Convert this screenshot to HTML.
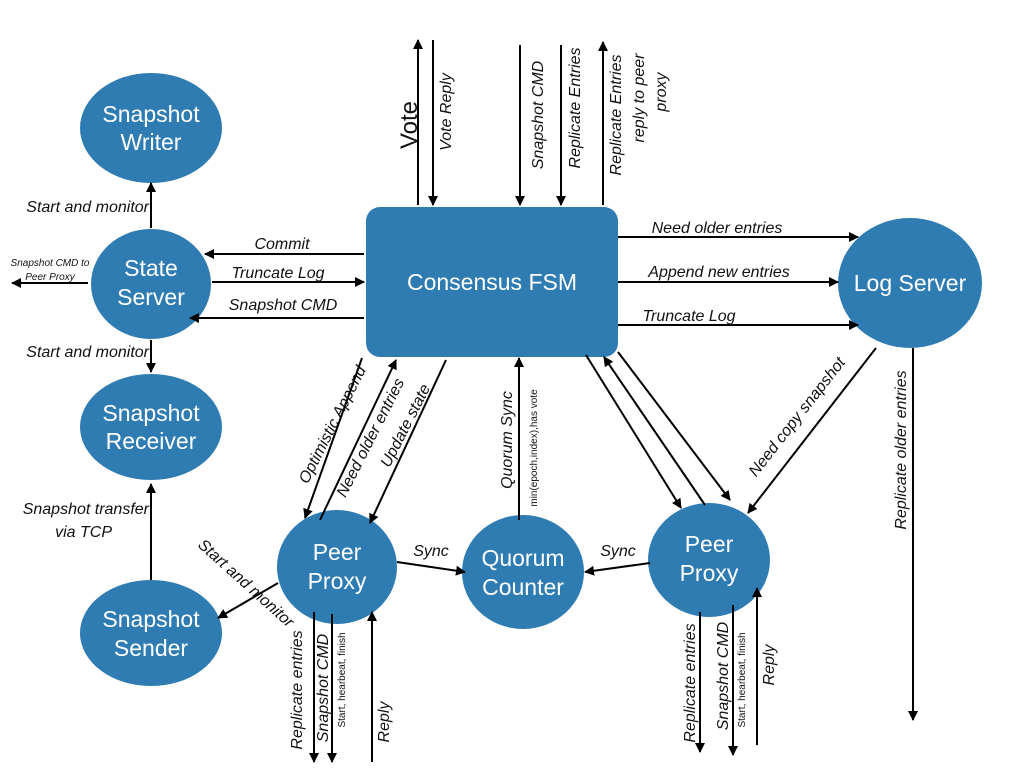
<!DOCTYPE html>
<html><head><meta charset="utf-8"><style>
html,body{margin:0;padding:0;background:#fff;}
svg{display:block;}
.n{fill:#2f7cb3;}
.t{fill:#fff;font-family:"Liberation Sans",sans-serif;font-size:23px;text-anchor:middle;}
.l{fill:#111;font-family:"Liberation Sans",sans-serif;font-size:16px;font-style:italic;}
.s{fill:#111;font-family:"Liberation Sans",sans-serif;font-size:10px;}
line{stroke:#000;stroke-width:2;}
</style></head><body>
<svg width="1024" height="768" viewBox="0 0 1024 768" xmlns="http://www.w3.org/2000/svg">
<defs><marker id="a" markerWidth="10" markerHeight="10" refX="9" refY="5" orient="auto" markerUnits="userSpaceOnUse"><path d="M0,0 L10,5 L0,10 z" fill="#000"/></marker></defs>
<g class="n">
<ellipse cx="151" cy="128" rx="71" ry="55"/>
<ellipse cx="151" cy="284" rx="60" ry="55"/>
<ellipse cx="151" cy="427" rx="71" ry="53"/>
<ellipse cx="151" cy="633" rx="71" ry="53"/>
<rect x="366" y="207" width="252" height="150" rx="14"/>
<ellipse cx="910" cy="283" rx="72" ry="65"/>
<ellipse cx="337" cy="567" rx="60" ry="57"/>
<ellipse cx="523" cy="572" rx="61" ry="57"/>
<ellipse cx="709" cy="560" rx="61" ry="57"/>
</g>
<text class="t" x="151" y="122">Snapshot</text><text class="t" x="151" y="150">Writer</text>
<text class="t" x="151" y="276">State</text><text class="t" x="151" y="305">Server</text>
<text class="t" x="151" y="421">Snapshot</text><text class="t" x="151" y="449">Receiver</text>
<text class="t" x="151" y="627">Snapshot</text><text class="t" x="151" y="656">Sender</text>
<text class="t" x="492" y="290">Consensus FSM</text>
<text class="t" x="910" y="291">Log Server</text>
<text class="t" x="337" y="560">Peer</text><text class="t" x="337" y="589">Proxy</text>
<text class="t" x="523" y="566">Quorum</text><text class="t" x="523" y="595">Counter</text>
<text class="t" x="709" y="552">Peer</text><text class="t" x="709" y="581">Proxy</text>
<g marker-end="url(#a)">
<line x1="418" y1="205" x2="418" y2="40"/>
<line x1="433" y1="40" x2="433" y2="205"/>
<line x1="520" y1="45" x2="520" y2="205"/>
<line x1="561" y1="45" x2="561" y2="205"/>
<line x1="603" y1="205" x2="603" y2="42"/>
<line x1="618" y1="237" x2="858" y2="237"/>
<line x1="618" y1="282" x2="838" y2="282"/>
<line x1="618" y1="325" x2="858" y2="325"/>
<line x1="364" y1="254" x2="205" y2="254"/>
<line x1="212" y1="282" x2="364" y2="282"/>
<line x1="364" y1="318" x2="190" y2="318"/>
<line x1="88" y1="283" x2="12" y2="283"/>
<line x1="151" y1="228" x2="151" y2="183"/>
<line x1="151" y1="340" x2="151" y2="372"/>
<line x1="151" y1="580" x2="151" y2="484"/>
<line x1="278" y1="583" x2="218" y2="618"/>
<line x1="362" y1="358" x2="305" y2="518"/>
<line x1="320" y1="520" x2="396" y2="360"/>
<line x1="446" y1="360" x2="370" y2="523"/>
<line x1="519" y1="520" x2="519" y2="358"/>
<line x1="397" y1="562" x2="465" y2="572"/>
<line x1="650" y1="563" x2="585" y2="572"/>
<line x1="586" y1="355" x2="681" y2="508"/>
<line x1="705" y1="505" x2="604" y2="357"/>
<line x1="618" y1="352" x2="730" y2="500"/>
<line x1="876" y1="348" x2="748" y2="513"/>
<line x1="913" y1="348" x2="913" y2="720"/>
<line x1="314" y1="612" x2="314" y2="762"/>
<line x1="332" y1="614" x2="332" y2="762"/>
<line x1="372" y1="762" x2="372" y2="612"/>
<line x1="700" y1="612" x2="700" y2="752"/>
<line x1="733" y1="605" x2="733" y2="755"/>
</g>
<line x1="757" y1="745" x2="757" y2="588" marker-end="url(#a)"/>
<text class="l" x="0" y="0" style="font-size:24px;font-style:normal" text-anchor="middle" transform="translate(417,125) rotate(-90)">Vote</text>
<text class="l" text-anchor="middle" transform="translate(451,112) rotate(-90)">Vote Reply</text>
<text class="l" text-anchor="middle" transform="translate(543,115) rotate(-90)">Snapshot CMD</text>
<text class="l" text-anchor="middle" transform="translate(580,108) rotate(-90)">Replicate Entries</text>
<text class="l" text-anchor="middle" transform="translate(621,115) rotate(-90)">Replicate Entries</text>
<text class="l" text-anchor="middle" transform="translate(644,98) rotate(-90)">reply to peer</text>
<text class="l" text-anchor="middle" transform="translate(666,92) rotate(-90)">proxy</text>
<text class="l" x="717" y="233" text-anchor="middle">Need older entries</text>
<text class="l" x="719" y="277" text-anchor="middle">Append new entries</text>
<text class="l" x="689" y="321" text-anchor="middle">Truncate Log</text>
<text class="l" x="282" y="249" text-anchor="middle">Commit</text>
<text class="l" x="278" y="278" text-anchor="middle">Truncate Log</text>
<text class="l" x="283" y="310" text-anchor="middle">Snapshot CMD</text>
<text class="s" x="50" y="266" text-anchor="middle" font-style="italic" font-size="11">Snapshot CMD to</text>
<text class="s" x="50" y="280" text-anchor="middle" font-style="italic" font-size="11">Peer Proxy</text>
<text class="l" x="149" y="212" text-anchor="end">Start and monitor</text>
<text class="l" x="149" y="357" text-anchor="end">Start and monitor</text>
<text class="l" x="149" y="514" text-anchor="end">Snapshot transfer</text>
<text class="l" x="112" y="537" text-anchor="end">via TCP</text>
<text class="l" transform="translate(197,546) rotate(42)">Start and monitor</text>
<text class="l" text-anchor="middle" transform="translate(337,427) rotate(-63)">Optimistic Append</text>
<text class="l" text-anchor="middle" transform="translate(375,440) rotate(-63)">Need older entries</text>
<text class="l" text-anchor="middle" transform="translate(410,428) rotate(-63)">Update  state</text>
<text class="l" text-anchor="middle" transform="translate(512,440) rotate(-90)">Quorum Sync</text>
<text class="s" text-anchor="middle" transform="translate(537,448) rotate(-90)">min(epoch,index),has vote</text>
<text class="l" x="431" y="556" text-anchor="middle">Sync</text>
<text class="l" x="618" y="556" text-anchor="middle">Sync</text>
<text class="l" text-anchor="middle" transform="translate(801,420) rotate(-52)">Need copy snapshot</text>
<text class="l" text-anchor="middle" transform="translate(906,450) rotate(-90)">Replicate older entries</text>
<text class="l" text-anchor="middle" transform="translate(302,690) rotate(-90)">Replicate entries</text>
<text class="l" text-anchor="middle" transform="translate(328,688) rotate(-90)">Snapshot CMD</text>
<text class="s" text-anchor="middle" transform="translate(345,680) rotate(-90)">Start, hearbeat, finish</text>
<text class="l" text-anchor="middle" transform="translate(389,722) rotate(-90)">Reply</text>
<text class="l" text-anchor="middle" transform="translate(695,683) rotate(-90)">Replicate entries</text>
<text class="l" text-anchor="middle" transform="translate(728,676) rotate(-90)">Snapshot CMD</text>
<text class="s" text-anchor="middle" transform="translate(745,680) rotate(-90)">Start, hearbeat, finish</text>
<text class="l" text-anchor="middle" transform="translate(774,665) rotate(-90)">Reply</text>
</svg>
</body></html>
